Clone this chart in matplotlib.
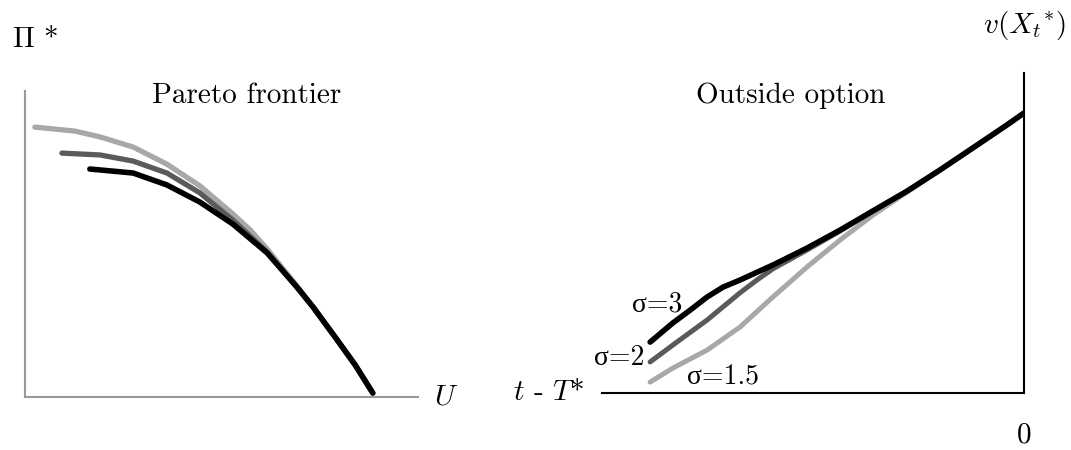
import matplotlib
matplotlib.use("Agg")
import matplotlib.pyplot as plt

plt.rcParams['mathtext.fontset'] = 'cm'
plt.rcParams['font.family'] = ['cmr10', 'Liberation Serif', 'DejaVu Serif']
plt.rcParams['axes.unicode_minus'] = False

# Pareto frontier (U, Pi*) for sigma = 1.5, 2, 3
pareto_u_15 = [0.25, 1.27, 1.91, 2.75, 3.61, 4.45, 5.29, 5.73, 6.16, 6.92, 7.33, 7.89, 8.40, 8.85]
pareto_pi_15 = [8.82, 8.69, 8.50, 8.17, 7.61, 6.90, 5.98, 5.46, 4.84, 3.63, 2.94, 1.96, 1.05, 0.13]
pareto_u_2 = [0.94, 1.91, 2.75, 3.61, 4.45, 5.29, 6.16, 6.92, 7.33, 7.89, 8.40, 8.85]
pareto_pi_2 = [7.97, 7.91, 7.71, 7.32, 6.67, 5.78, 4.74, 3.59, 2.94, 1.96, 1.05, 0.13]
pareto_u_3 = [1.65, 1.91, 2.75, 3.61, 4.45, 5.29, 6.16, 6.92, 7.33, 7.89, 8.40, 8.85]
pareto_pi_3 = [7.45, 7.42, 7.32, 6.93, 6.37, 5.65, 4.71, 3.59, 2.94, 1.96, 1.05, 0.13]

# Outside option v(X_t*) against t - T*
out_t_15 = [-8.86, -8.32, -7.51, -6.73, -5.95, -5.14, -4.36, -3.58, -2.77, -1.99, -1.21, -0.40, 0.0]
out_v_15 = [0.34, 0.78, 1.34, 2.06, 3.00, 3.94, 4.78, 5.56, 6.28, 6.97, 7.66, 8.38, 8.75]
out_t_2 = [-8.86, -8.32, -7.51, -6.73, -6.33, -5.95, -5.14, -4.36, -3.58, -2.77, -1.99, -1.21, -0.40, 0.0]
out_v_2 = [0.97, 1.50, 2.28, 3.13, 3.53, 3.88, 4.47, 5.06, 5.69, 6.31, 6.97, 7.66, 8.38, 8.75]
out_t_3 = [-8.86, -8.32, -7.91, -7.51, -7.13, -6.73, -5.95, -5.14, -4.36, -3.58, -2.77, -1.99, -1.21, -0.40, 0.0]
out_v_3 = [1.59, 2.19, 2.59, 3.00, 3.31, 3.53, 4.00, 4.53, 5.09, 5.69, 6.31, 6.97, 7.66, 8.38, 8.75]

light = '#a8a8a8'
dark = '#5a5a5a'
black = '#000000'

fig = plt.figure(figsize=(10.71, 4.5), dpi=100)
ax1 = fig.add_axes([25/1071, 53/450, 393/1071, 306/450])
ax2 = fig.add_axes([602/1071, 57/450, 422/1071, 320/450])

# left panel
ax1.plot(pareto_u_15, pareto_pi_15, color=light, lw=3.8, solid_capstyle='round', solid_joinstyle='round')
ax1.plot(pareto_u_2, pareto_pi_2, color=dark, lw=3.8, solid_capstyle='round', solid_joinstyle='round')
ax1.plot(pareto_u_3, pareto_pi_3, color=black, lw=4.0, solid_capstyle='round', solid_joinstyle='round')
ax1.set_xlim(0, 10)
ax1.set_ylim(0, 10)
for s in ['top', 'right']:
    ax1.spines[s].set_visible(False)
for s in ['left', 'bottom']:
    ax1.spines[s].set_color('#999999')
    ax1.spines[s].set_linewidth(1.5)
ax1.set_xticks([])
ax1.set_yticks([])
ax1.text(0.564, 0.961, 'Pareto frontier', transform=ax1.transAxes,
         ha='center', va='baseline', fontsize=21)
ax1.text(1.04, 0.0, '$U$', transform=ax1.transAxes, ha='left', va='center', fontsize=21)
fig.text(12/1071, 1 - 40/450, r'$\Pi$ *', ha='left', va='center', fontsize=21)

# right panel
ax2.plot(out_t_15, out_v_15, color=light, lw=3.6, solid_capstyle='round', solid_joinstyle='round')
ax2.plot(out_t_2, out_v_2, color=dark, lw=3.6, solid_capstyle='round', solid_joinstyle='round')
ax2.plot(out_t_3, out_v_3, color=black, lw=4.0, solid_capstyle='round', solid_joinstyle='round')
ax2.set_xlim(-10, 0)
ax2.set_ylim(0, 10)
for s in ['top', 'left']:
    ax2.spines[s].set_visible(False)
for s in ['right', 'bottom']:
    ax2.spines[s].set_color('black')
    ax2.spines[s].set_linewidth(1.5)
ax2.set_yticks([])
ax2.set_xticks([0])
ax2.set_xticklabels(['0'], fontsize=21)
ax2.tick_params(axis='x', length=0, pad=21)
ax2.text(0.448, 0.906, 'Outside option', transform=ax2.transAxes,
         ha='center', va='baseline', fontsize=21)
ax2.text(-8.70, 2.78, 'σ=3', ha='center', va='center', fontsize=20)
ax2.text(-9.60, 1.09, 'σ=2', ha='center', va='center', fontsize=20)
ax2.text(-7.13, 0.53, 'σ=1.5', ha='center', va='center', fontsize=20)
ax2.text(-0.126, 0.0, '$t$ - $T$*', transform=ax2.transAxes, ha='center', va='center', fontsize=21)
fig.text(1024/1071, 1 - 25/450, r'$v(X_t{}^{*})$', ha='center', va='center', fontsize=21)

fig.savefig('out.png', dpi=100)
